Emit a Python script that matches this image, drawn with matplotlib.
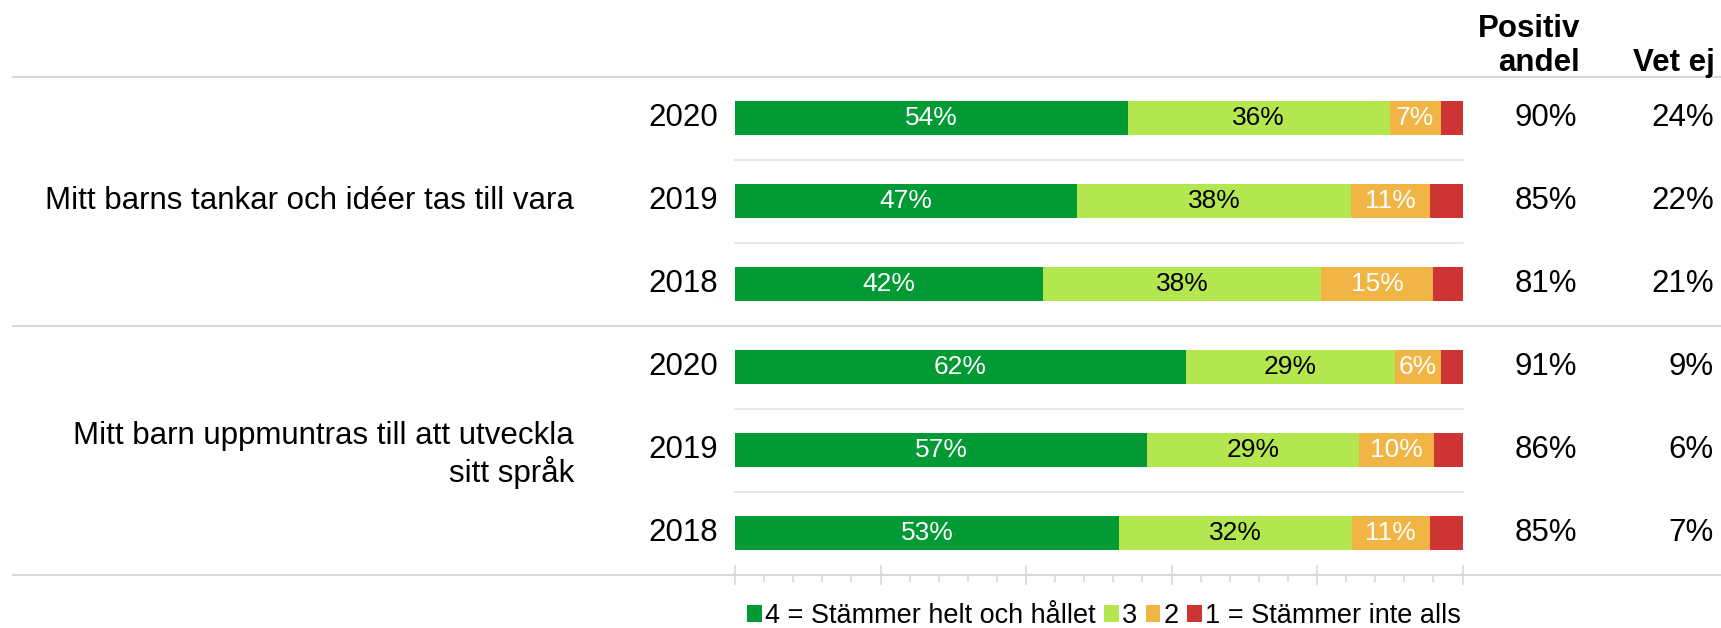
import matplotlib
matplotlib.use("Agg")
import matplotlib.pyplot as plt
from matplotlib.transforms import blended_transform_factory
from matplotlib.patches import Patch
from matplotlib.ticker import MultipleLocator

plt.rcParams['font.family'] = ['Liberation Sans', 'DejaVu Sans']

questions = ["Mitt barns tankar och idéer tas till vara",
             "Mitt barn uppmuntras till att utveckla\nsitt språk"]
years = ["2020", "2019", "2018", "2020", "2019", "2018"]
s4 = [54, 47, 42.4, 62, 56.7, 52.8]
s3 = [36, 37.7, 38.2, 28.7, 29.1, 32.0]
s2 = [7, 10.9, 15.3, 6.3, 10.3, 10.7]
s1 = [3, 4.4, 4.1, 3, 3.9, 4.5]
positiv = ["90%", "85%", "81%", "91%", "86%", "85%"]
vetej = ["24%", "22%", "21%", "9%", "6%", "7%"]
legend_labels = ["4 = Stämmer helt och hållet", "3", "2", "1 = Stämmer inte alls"]
colors = ["#029a35", "#b4e64f", "#f0b544", "#cf3434"]
text_colors = ["white", "black", "white", None]

W, H = 1721, 628
FS = 22.5
fig = plt.figure(figsize=(W / 100, H / 100), dpi=100)
ax = fig.add_axes([735 / W, (H - 574.5) / H, 727.5 / W, 498 / H])

n = len(years)
ypos = list(range(n))
series = [s4, s3, s2, s1]
left = [0] * n
for k, vals in enumerate(series):
    bars = ax.barh(ypos, vals, left=left, height=0.41, color=colors[k], edgecolor='none', zorder=3)
    if text_colors[k]:
        for i, b in enumerate(bars):
            ax.text(b.get_x() + b.get_width() / 2, b.get_y() + b.get_height() / 2,
                    f"{round(vals[i])}%", ha='center', va='center', color=text_colors[k],
                    fontsize=19, zorder=4)
    left = [l + v for l, v in zip(left, vals)]

ax.set_xlim(0, 100)
ax.set_ylim(5.5, -0.5)

for s in ['top', 'right', 'left', 'bottom']:
    ax.spines[s].set_visible(False)
ax.set_yticks([])
ax.xaxis.set_major_locator(MultipleLocator(20))
ax.xaxis.set_minor_locator(MultipleLocator(4))
ax.tick_params(axis='x', which='major', direction='inout', length=14, width=1.2,
               color='#d9d9d9', labelbottom=False)
ax.tick_params(axis='x', which='minor', direction='out', length=5, width=1.2,
               color='#d9d9d9')

# separators within groups
for y in [0.5, 1.5, 3.5, 4.5]:
    ax.plot([0, 100], [y, y], color='#e3e3e3', lw=1.2, zorder=1, clip_on=False)

# full-width lines
tr = blended_transform_factory(fig.transFigure, ax.transData)
for y in [-0.5, 2.5, 5.5]:
    ax.plot([13 / W, 1.0], [y, y], color='#d9d9d9', lw=1.5, transform=tr, clip_on=False, zorder=2)

# year labels, values
for i in range(n):
    ax.text(718 / W, i, years[i], transform=tr, ha='right', va='center', fontsize=FS)
    ax.text(1577 / W, i, positiv[i], transform=tr, ha='right', va='center', fontsize=FS)
    ax.text(1714 / W, i, vetej[i], transform=tr, ha='right', va='center', fontsize=FS)

# question labels
ax.text(574 / W, 1, questions[0], transform=tr, ha='right', va='center', fontsize=FS)
ax.text(574 / W, 4.06, questions[1], transform=tr, ha='right', va='center', fontsize=FS,
        multialignment='right', linespacing=1.2)

# headers
fig.text(1580 / W, 1 - 37 / H, "Positiv", ha='right', va='baseline', fontsize=FS,
         fontweight='bold')
fig.text(1580 / W, 1 - 71 / H, "andel", ha='right', va='baseline', fontsize=FS,
         fontweight='bold')
fig.text(1715 / W, 1 - 71 / H, "Vet ej", ha='right', va='baseline', fontsize=FS,
         fontweight='bold')

handles = [Patch(facecolor=c, edgecolor='none') for c in colors]
fig.legend(handles, legend_labels, loc='center', bbox_to_anchor=(1104 / W, 1 - 616 / H),
           ncol=4, frameon=False, fontsize=19.5, handlelength=0.55, handleheight=0.55,
           handletextpad=0.12, columnspacing=0.3, borderaxespad=0, borderpad=0)

fig.savefig("out.png", dpi=100)
